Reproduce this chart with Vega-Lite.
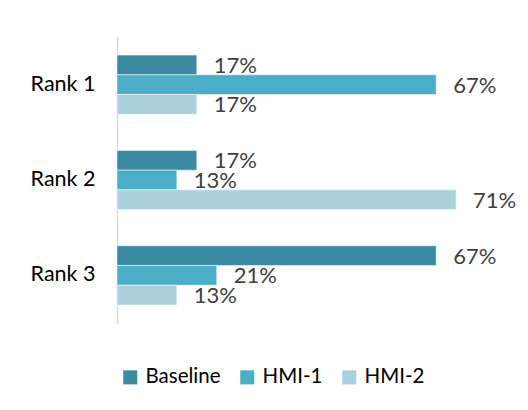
{
  "$schema": "https://vega.github.io/schema/vega-lite/v6.json",
  "autosize": {"type": "none"},
  "padding": {"left": 117, "top": 37, "right": 28, "bottom": 87},
  "width": 383,
  "height": 286,
  "background": "white",
  "config": {"view": {"stroke": null}, "font": "Lato"},
  "data": {"values": [
    {"rank": "Rank 1", "series": "Baseline", "value": 0.1667},
    {"rank": "Rank 1", "series": "HMI-1", "value": 0.6667},
    {"rank": "Rank 1", "series": "HMI-2", "value": 0.1667},
    {"rank": "Rank 2", "series": "Baseline", "value": 0.1667},
    {"rank": "Rank 2", "series": "HMI-1", "value": 0.125},
    {"rank": "Rank 2", "series": "HMI-2", "value": 0.7083},
    {"rank": "Rank 3", "series": "Baseline", "value": 0.6667},
    {"rank": "Rank 3", "series": "HMI-1", "value": 0.2083},
    {"rank": "Rank 3", "series": "HMI-2", "value": 0.125}
  ]},
  "encoding": {
    "y": {"field": "rank", "type": "nominal", "sort": ["Rank 1", "Rank 2", "Rank 3"],
      "scale": {"paddingInner": 0.38, "paddingOuter": 0.19},
      "axis": {"title": null, "ticks": false, "domainColor": "#d9d9d9", "domainWidth": 1.5,
        "labelFontSize": 21.5, "labelColor": "#000000", "labelPadding": 22, "labelFont": "Lato"}},
    "yOffset": {"field": "series", "type": "nominal", "sort": ["Baseline", "HMI-1", "HMI-2"],
      "scale": {"paddingInner": 0, "paddingOuter": 0}},
    "x": {"field": "value", "type": "quantitative", "scale": {"domain": [0, 0.8], "nice": false}, "axis": null}
  },
  "layer": [
    {
      "mark": {"type": "bar", "stroke": "white", "strokeWidth": 0.5},
      "encoding": {
        "color": {"field": "series", "type": "nominal", "sort": ["Baseline", "HMI-1", "HMI-2"],
          "scale": {"domain": ["Baseline", "HMI-1", "HMI-2"], "range": ["#3c8aa2", "#4badc7", "#aacfdd"]},
          "legend": {"title": null, "orient": "none", "legendX": 3, "legendY": 330, "direction": "horizontal",
            "symbolType": "square", "symbolSize": 196, "symbolStrokeWidth": 0, "labelFontSize": 20.5,
            "labelColor": "#000000", "labelOffset": 5, "columnPadding": 16, "labelFont": "Lato"}}
      }
    },
    {
      "mark": {"type": "text", "align": "left", "baseline": "middle", "dx": 17, "dy": 1, "fontSize": 22, "color": "#404040"},
      "encoding": {"text": {"field": "value", "type": "quantitative", "format": ".0%"}}
    }
  ]
}
